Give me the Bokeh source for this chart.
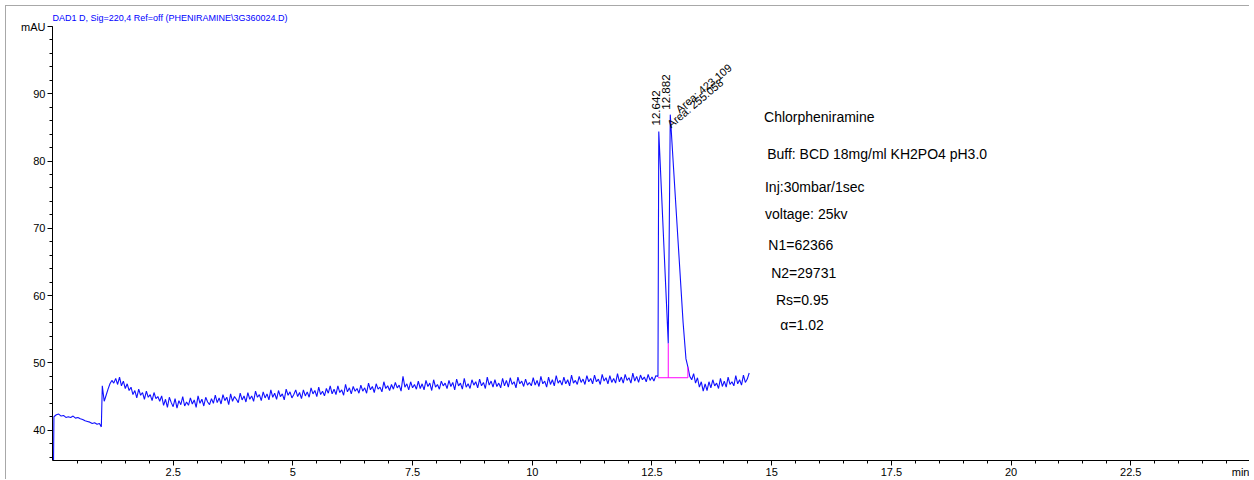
import numpy as np
from bokeh.plotting import figure
from bokeh.models import FixedTicker, Span
from bokeh.core.properties import value
from bokeh.embed import file_html
from bokeh.resources import INLINE

# ---------------- data ----------------
title_text = "DAD1 D, Sig=220,4 Ref=off (PHENIRAMINE\\3G360024.D)"

# very first sample (signal starts below the visible range)
start_time = [0.0]
start_signal = [34.0]

# 0.01 .. 0.96 min, every 0.05 min
seg_a_t0, seg_a_dt = 0.01, 0.05
seg_a_signal = [42.0, 42.3, 42.4, 42.1, 42.2, 41.9, 42.0, 41.9, 42.1, 41.8,
                41.9, 41.7, 41.6, 41.4, 41.3, 41.2, 41.0, 41.1, 40.9, 41.0]
dip_time = [1.00]
dip_signal = [40.5]

# 1.02 .. 12.58 min, every 0.04 min
seg_b_t0, seg_b_dt = 1.02, 0.04
seg_b_signal = [
    46.6, 44.3, 45.2, 46.1, 46.9, 47.4, 47.0, 47.7, 46.8, 47.9, 46.6, 47.3, 46.2, 46.9, 45.9,
    46.4, 45.3, 45.9, 44.8, 46.1, 45.2, 45.6, 44.6, 45.8, 44.9, 45.3, 44.4, 45.6, 44.7, 45.0,
    44.3, 45.1, 43.7, 44.6, 43.4, 44.9, 44.1, 43.5, 44.7, 43.3, 44.4, 43.8, 45.0, 43.6, 44.2,
    43.7, 44.8, 43.9, 44.5, 43.4, 45.1, 44.0, 44.6, 43.6, 44.9, 44.2, 43.8, 44.7, 44.0, 45.2,
    44.1, 44.8, 43.9, 45.3, 44.4, 44.9, 43.8, 45.4, 44.3, 45.0, 44.6, 44.1, 45.5, 44.5, 45.1,
    44.2, 45.6, 44.6, 45.1, 44.3, 45.8, 44.9, 45.3, 44.4, 45.7, 44.8, 45.4, 44.5, 46.0, 44.9,
    45.5, 44.6, 45.9, 45.0, 45.4, 44.5, 46.1, 45.2, 45.7, 44.8, 45.3, 46.0, 45.0, 45.6, 44.7,
    46.0, 45.1, 45.7, 44.9, 46.3, 45.4, 45.9, 45.0, 46.4, 45.3, 45.8, 45.1, 46.2, 45.5, 46.6,
    45.4, 46.1, 45.3, 46.6, 45.6, 46.0, 45.2, 46.8, 45.7, 46.3, 45.4, 46.5, 45.8, 46.2, 45.5,
    46.7, 45.8, 46.3, 45.5, 47.0, 46.0, 46.5, 45.6, 46.9, 46.1, 46.4, 45.7, 47.2, 46.2, 46.6,
    45.9, 46.8, 46.1, 47.1, 46.3, 46.7, 45.8, 48.0, 46.4, 46.9, 46.0, 47.2, 46.3, 46.8, 46.1,
    47.3, 46.2, 46.9, 46.0, 47.4, 46.5, 47.0, 45.9, 47.5, 46.4, 46.8, 46.1, 47.3, 46.6, 47.0,
    46.2, 47.4, 46.5, 47.1, 46.0, 47.6, 46.6, 47.0, 46.1, 47.7, 46.4, 46.9, 46.2, 47.5, 46.7,
    47.2, 46.3, 47.6, 46.6, 47.1, 46.2, 47.9, 46.7, 47.3, 46.4, 47.5, 46.5, 47.0, 46.3, 47.7,
    46.6, 47.4, 46.4, 47.8, 46.8, 47.2, 46.3, 47.9, 46.9, 47.3, 46.5, 47.6, 46.7, 47.1, 46.6,
    47.8, 46.7, 47.4, 46.5, 48.0, 46.9, 47.3, 46.4, 47.9, 46.8, 47.5, 46.6, 48.1, 47.0, 47.4,
    46.7, 47.9, 46.9, 47.5, 46.6, 48.2, 47.0, 47.4, 46.8, 48.0, 47.1, 47.6, 46.8, 48.1, 47.2,
    47.7, 46.9, 48.2, 47.2, 47.6, 46.8, 48.3, 47.3, 47.8, 46.9, 48.1, 47.1, 47.7, 47.0, 48.4,
    47.2, 47.9, 47.0, 48.3, 47.4, 47.8, 47.0, 48.5, 47.3, 48.0, 47.1, 48.2, 47.5, 47.9, 47.2,
    48.3, 47.4, 47.9, 47.3, 48.1]

# the two peaks
peak_seg_time = [12.625, 12.642, 12.70, 12.76, 12.80, 12.84, 12.882,
                 12.95, 13.05, 13.15, 13.21, 13.25, 13.29]
peak_seg_signal = [48.0, 84.4, 75.2, 65.6, 59.3, 52.9, 86.9,
                   79.0, 67.5, 56.0, 50.6, 49.4, 48.0]

# 13.33 .. 14.53 min, every 0.04 min
seg_c_t0, seg_c_dt = 13.33, 0.04
seg_c_signal = [47.5, 48.4, 47.0, 47.8, 46.4, 47.2, 45.8, 46.9, 45.9, 47.2,
                46.3, 47.5, 46.6, 47.0, 46.2, 47.7, 46.5, 47.3, 46.4, 47.9,
                46.8, 47.2, 46.6, 48.1, 46.9, 47.5, 46.7, 48.2, 47.1, 47.6, 48.5]

peak_times = [12.642, 12.882]
peak_heights = [84.4, 86.9]
peak_rt_labels = ["12.642", "12.882"]
peak_area_labels = ["Area: 255.058", "Area: 423.109"]

# integration baseline (magenta)
base_start, base_end, base_level = 12.625, 13.25, 47.8
valley_time, valley_signal = 12.84, 52.9
base_end_signal = 49.4

x_ticks = [2.5, 5, 7.5, 10, 12.5, 15, 17.5, 20, 22.5, 25]
x_tick_labels = ["2.5", "5", "7.5", "10", "12.5", "15", "17.5", "20", "22.5", "min"]
y_ticks = [40, 50, 60, 70, 80, 90, 100]
y_tick_labels = ["40", "50", "60", "70", "80", "90", "mAU"]

info_lines = ["Chlorpheniramine",
              "Buff: BCD 18mg/ml KH2PO4 pH3.0",
              "Inj:30mbar/1sec",
              "voltage: 25kv",
              "N1=62366",
              "N2=29731",
              "Rs=0.95",
              "\u03b1=1.02"]
info_x = [14.84, 14.905, 14.86, 14.86, 14.93, 14.99, 15.09, 15.18]
info_y = [86.6, 81.1, 76.2, 72.2, 67.6, 63.3, 59.4, 55.7]

# ---------------- build trace ----------------
seg_a_time = seg_a_t0 + seg_a_dt * np.arange(len(seg_a_signal))
seg_b_time = seg_b_t0 + seg_b_dt * np.arange(len(seg_b_signal))
seg_c_time = seg_c_t0 + seg_c_dt * np.arange(len(seg_c_signal))
time_min = np.concatenate([start_time, seg_a_time, dip_time, seg_b_time,
                           peak_seg_time, seg_c_time])
signal_mau = np.concatenate([start_signal, seg_a_signal, dip_signal, seg_b_signal,
                             peak_seg_signal, seg_c_signal])

SANS = "Liberation Sans"

p = figure(width=1244, height=474, x_range=(-0.02, 25.0), y_range=(35.5, 100),
           output_backend="svg", toolbar_location=None,
           min_border_left=46, min_border_right=0, min_border_top=17,
           min_border_bottom=0, title=title_text)
p.styles = {"margin-left": "5px", "margin-top": "5px",
            "border-left": "1px solid #a8a8a8", "border-top": "1px solid #a8a8a8"}
p.outline_line_color = None
p.xgrid.visible = False
p.ygrid.visible = False

p.title.text_font = SANS
p.title.text_font_size = "9px"
p.title.text_font_style = "normal"
p.title.text_color = "#0000ff"
p.title.align = "left"
p.title.standoff = 8

p.xaxis.ticker = FixedTicker(ticks=x_ticks, minor_ticks=list(np.arange(0.5, 25.01, 0.5)))
p.xaxis.major_label_overrides = {float(k): v for k, v in zip(x_ticks, x_tick_labels)}
p.yaxis.ticker = FixedTicker(ticks=y_ticks, minor_ticks=list(range(36, 101, 2)))
p.yaxis.major_label_overrides = {float(k): v for k, v in zip(y_ticks, y_tick_labels)}

for ax in (p.xaxis[0], p.yaxis[0]):
    ax.axis_line_color = "black"
    ax.major_tick_line_color = "black"
    ax.minor_tick_line_color = "black"
    ax.major_tick_in = 0
    ax.major_tick_out = 5
    ax.minor_tick_in = 0
    ax.minor_tick_out = 3
    ax.major_label_standoff = 2
    ax.major_label_text_font = SANS
    ax.major_label_text_font_size = "11px"
    ax.major_label_text_color = "black"
p.xaxis.major_label_standoff = 0

# right edge line of the chart box
p.add_layout(Span(location=x_ticks[-1], dimension="height",
                  line_color="#a8a8a8", line_width=1))

# trace
p.line(time_min, signal_mau, line_color="#1010ff", line_width=1.1)

# integration baseline
p.segment(x0=[base_start, valley_time, base_end],
          y0=[base_level, base_level, base_level],
          x1=[base_end, valley_time, base_end],
          y1=[base_level, valley_signal, base_end_signal],
          line_color="#ff00ff", line_width=1)

# retention time labels (vertical)
p.text(x=peak_times, y=peak_heights, text=peak_rt_labels, angle=np.pi / 2,
       x_offset=[-3, -4], y_offset=[-6, -5],
       text_align="left", text_baseline="middle",
       text_font=value(SANS), text_font_size="11.5px", text_color="black")

# area labels (slanted)
p.text(x=peak_times, y=peak_heights, text=peak_area_labels, angle=0.70,
       x_offset=[10, 7], y_offset=[-6, -4],
       text_align="left", text_baseline="alphabetic",
       text_font=value(SANS), text_font_size="11px", text_color="black")

# info text block
p.text(x=info_x, y=info_y, text=info_lines,
       text_align="left", text_baseline="middle",
       text_font=value(SANS), text_font_size="14px", text_color="black")

open("out.html", "w").write(file_html(p, INLINE))
